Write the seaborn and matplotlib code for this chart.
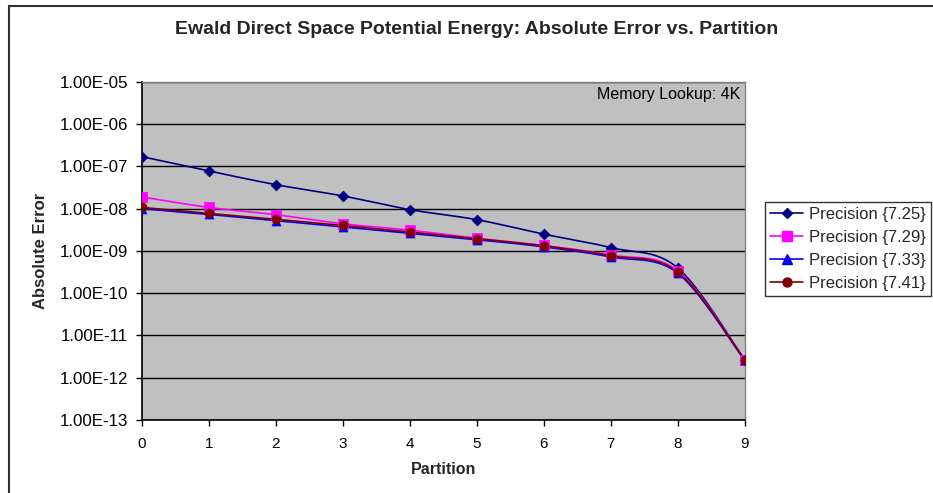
import numpy as np
import pandas as pd
import matplotlib
matplotlib.use("Agg")
import matplotlib.pyplot as plt
from matplotlib.patches import Rectangle
from matplotlib.ticker import FixedLocator, FixedFormatter
import seaborn as sns

partition = [0, 1, 2, 3, 4, 5, 6, 7, 8, 9]
series_names = ["Precision {7.25}", "Precision {7.29}", "Precision {7.33}", "Precision {7.41}"]
err_725 = [1.7e-7, 7.8e-8, 3.7e-8, 2.0e-8, 9.5e-9, 5.5e-9, 2.5e-9, 1.2e-9, 4.0e-10, 2.7e-12]
err_729 = [1.9e-8, 1.07e-8, 7.2e-9, 4.4e-9, 3.1e-9, 2.0e-9, 1.35e-9, 8.0e-10, 3.4e-10, 2.7e-12]
err_733 = [1.0e-8, 7.3e-9, 5.2e-9, 3.7e-9, 2.6e-9, 1.85e-9, 1.25e-9, 7.2e-10, 3.0e-10, 2.6e-12]
err_741 = [1.07e-8, 7.7e-9, 5.6e-9, 4.0e-9, 2.8e-9, 1.95e-9, 1.32e-9, 7.7e-10, 3.2e-10, 2.7e-12]
y_ticks = [1e-13, 1e-12, 1e-11, 1e-10, 1e-9, 1e-8, 1e-7, 1e-6, 1e-5]
y_tick_labels = ["1.00E-13", "1.00E-12", "1.00E-11", "1.00E-10", "1.00E-09",
                 "1.00E-08", "1.00E-07", "1.00E-06", "1.00E-05"]

colors = ["#000080", "#FF00FF", "#0000FF", "#800000"]
markers = ["D", "s", "^", "o"]
msizes = [5.5, 6.5, 6.5, 6.5]

sns.set_theme(style="white")
plt.rcParams["font.family"] = ["Liberation Sans", "DejaVu Sans"]

fig = plt.figure(figsize=(9.33, 4.93), dpi=100)
ax = fig.add_axes([0.152, 0.148, 0.646, 0.686])
ax.set_facecolor("#C0C0C0")

def smooth(xs, ys, n=30):
    # Excel-style smoothed line (Catmull-Rom Bezier) in display (log) space
    xs = np.asarray(xs, float)
    ly = np.log10(np.asarray(ys, float))
    P = np.column_stack([xs, ly])
    out = []
    for i in range(len(P) - 1):
        p0 = P[i - 1] if i > 0 else P[i]
        p1 = P[i]
        p2 = P[i + 1]
        p3 = P[i + 2] if i + 2 < len(P) else P[i + 1]
        c1 = p1 + (p2 - p0) / 6.0
        c2 = p2 - (p3 - p1) / 6.0
        t = np.linspace(0, 1, n, endpoint=(i == len(P) - 2))[:, None]
        b = ((1 - t) ** 3) * p1 + 3 * ((1 - t) ** 2) * t * c1 + 3 * (1 - t) * t ** 2 * c2 + t ** 3 * p2
        out.append(b)
    out = np.vstack(out)
    return out[:, 0], 10 ** out[:, 1]

handles = []
all_series = [err_725, err_729, err_733, err_741]
for name, vals, c, m, ms in zip(series_names, all_series, colors, markers, msizes):
    sx, sy = smooth(partition, vals)
    sns.lineplot(x=sx, y=sy, ax=ax, color=c, lw=1.2, sort=False, estimator=None, legend=False)
    df = pd.DataFrame({"x": partition, "y": vals})
    sns.scatterplot(data=df, x="x", y="y", ax=ax, color=c, marker=m, s=ms ** 2,
                    edgecolor=c, linewidth=0.5, zorder=5, legend=False)
    h, = ax.plot([], [], color=c, marker=m, ms=ms, lw=1.2, label=name)
    handles.append(h)

if ax.get_legend() is not None:
    ax.get_legend().remove()

ax.set_yscale("log")
ax.set_ylim(1e-13, 1e-5)
ax.set_xlim(0, 9)
ax.yaxis.set_major_locator(FixedLocator(y_ticks))
ax.yaxis.set_major_formatter(FixedFormatter(y_tick_labels))
ax.yaxis.set_minor_locator(FixedLocator([]))
ax.set_xticks(partition)
ax.set_xticklabels([str(p) for p in partition])
ax.grid(axis="y", color="black", lw=1.0)
ax.set_axisbelow(True)
ax.tick_params(axis="both", colors="black", direction="out", length=4, width=1,
               left=True, bottom=True)
ax.tick_params(axis="y", labelsize=12.2, pad=6)
ax.tick_params(axis="x", labelsize=11, pad=8)
for side in ["left", "bottom"]:
    ax.spines[side].set_color("black")
    ax.spines[side].set_linewidth(1.2)
for side in ["top", "right"]:
    ax.spines[side].set_color("#808080")
    ax.spines[side].set_linewidth(1.0)

ax.set_xlabel("Partition", fontsize=11.5, fontweight="bold", labelpad=8)
ax.set_ylabel("Absolute Error", fontsize=12, fontweight="bold", labelpad=8)
fig.suptitle("Ewald Direct Space Potential Energy: Absolute Error vs. Partition",
             x=0.511, y=0.958, fontsize=14, fontweight="bold")
ax.text(0.993, 0.985, "Memory Lookup: 4K", transform=ax.transAxes, ha="right", va="top",
        fontsize=11.5, color="black")

leg = fig.legend(handles=handles, loc="upper left", bbox_to_anchor=(0.82, 0.590), frameon=True,
                 fontsize=12, fancybox=False, handlelength=2.0, borderpad=0.3,
                 labelspacing=0.47, handletextpad=0.35, borderaxespad=0)
leg.get_frame().set_edgecolor("black")
leg.get_frame().set_linewidth(1.0)

fig.patches.append(Rectangle((9 / 933, -0.05), 1.1, 1 - 6 / 493 + 0.05, transform=fig.transFigure,
                             fill=False, edgecolor="#303030", lw=1.5))

fig.savefig("out.png", dpi=100)
